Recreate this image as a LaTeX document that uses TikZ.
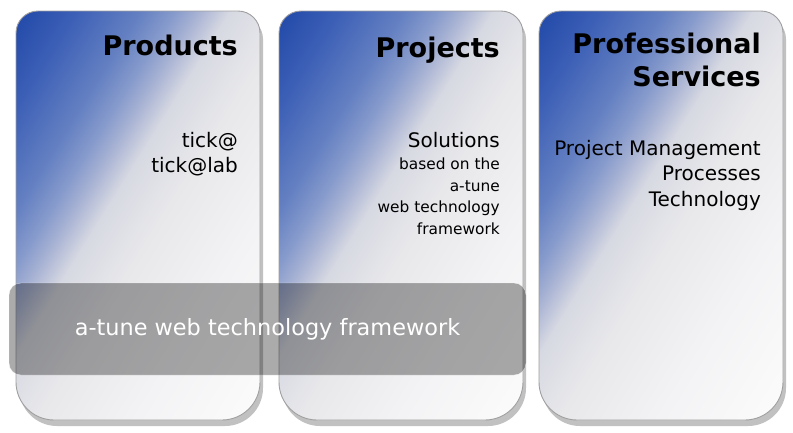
\documentclass[tikz,border=0pt]{standalone}
\usepackage{fontspec}
\setmainfont{DejaVu Sans}
\usepackage{tikz}
\usetikzlibrary{positioning,shadows}
\definecolor{cardA}{RGB}{32,72,168}
\definecolor{cardB}{RGB}{60,95,182}
\definecolor{cardC}{RGB}{100,128,194}
\definecolor{cardD}{RGB}{135,155,204}
\definecolor{cardE}{RGB}{170,180,212}
\definecolor{cardF}{RGB}{215,217,226}
\definecolor{cardG}{RGB}{232,232,235}
\definecolor{cardH}{RGB}{243,243,245}
\definecolor{cardI}{RGB}{252,252,252}
\pgfdeclareverticalshading{cardshade}{100bp}{color(0bp)=(cardI);
  color(25bp)=(cardI); color(37.5bp)=(cardH); color(47.5bp)=(cardG);
  color(53.5bp)=(cardF); color(56.5bp)=(cardE); color(59bp)=(cardD);
  color(62.5bp)=(cardC); color(69bp)=(cardB); color(75bp)=(cardA);
  color(100bp)=(cardA)}
\tikzset{
  card/.style   = {draw=gray!75, line width=0.9pt, fill=white,
                   drop shadow={shadow xshift=3pt, shadow yshift=-6pt,
                   opacity=0.35, fill=black!70},
                   path picture={
                     \begin{scope}[transform canvas={rotate around=
                       {58:(path picture bounding box.center)}}]
                       \shade[shading=cardshade] (path picture bounding box.center)
                         ++(-240,-212) rectangle ++(480,424);
                     \end{scope}}},
  title/.style  = {anchor=north east, align=right, inner sep=0pt,
                   font=\bfseries\fontsize{27}{33}\selectfont},
  item/.style   = {anchor=north east, align=right, inner sep=0pt,
                   font=\fontsize{20}{25.5}\selectfont},
  small/.style  = {align=right, inner sep=0pt,
                   font=\fontsize{15.4}{21.5}\selectfont},
  band/.style   = {rectangle, rounded corners=12pt, minimum width=517pt,
                   minimum height=92pt, fill=black, fill opacity=0.33,
                   draw=white, draw opacity=0.6, text=white, text opacity=1,
                   font=\fontsize{22.4}{27}\selectfont}
}

\begin{document}
\begin{tikzpicture}[x=1pt,y=-1pt]

\useasboundingbox (0,0) rectangle (793,432);

% the three cards, top corners tighter than bottom ones
\foreach \cx in {16,279,539}
  \draw[card] (\cx,215) [rounded corners=22pt] -- (\cx,11) -- (\cx+244,11)
    -- (\cx+244,215) [rounded corners=38pt] -- (\cx+244,420) -- (\cx,420) -- cycle;

% products
\node[title] (prod) at (238,34.5) {Products};
\node[item] (prodi) at (238,131.8) {tick@\\tick@lab};

% projects
\node[title] (proj) at (500,36.5) {Projects};
\node[item] (sol) at (500,131.8) {Solutions};
\node[small, below=10.3pt of sol.south east, anchor=north east] (soli)
  {based on the\\a-tune\\web technology\\framework};

% professional services
\node[title] (serv) at (761,32.5) {Professional\\Services};
\node[item] (servi) at (761,139.8) {Project Management\\Processes\\Technology};

% framework band across the first two cards
\node[band] (fw) at (267.5,329) {a-tune web technology framework};

\end{tikzpicture}
\end{document}
